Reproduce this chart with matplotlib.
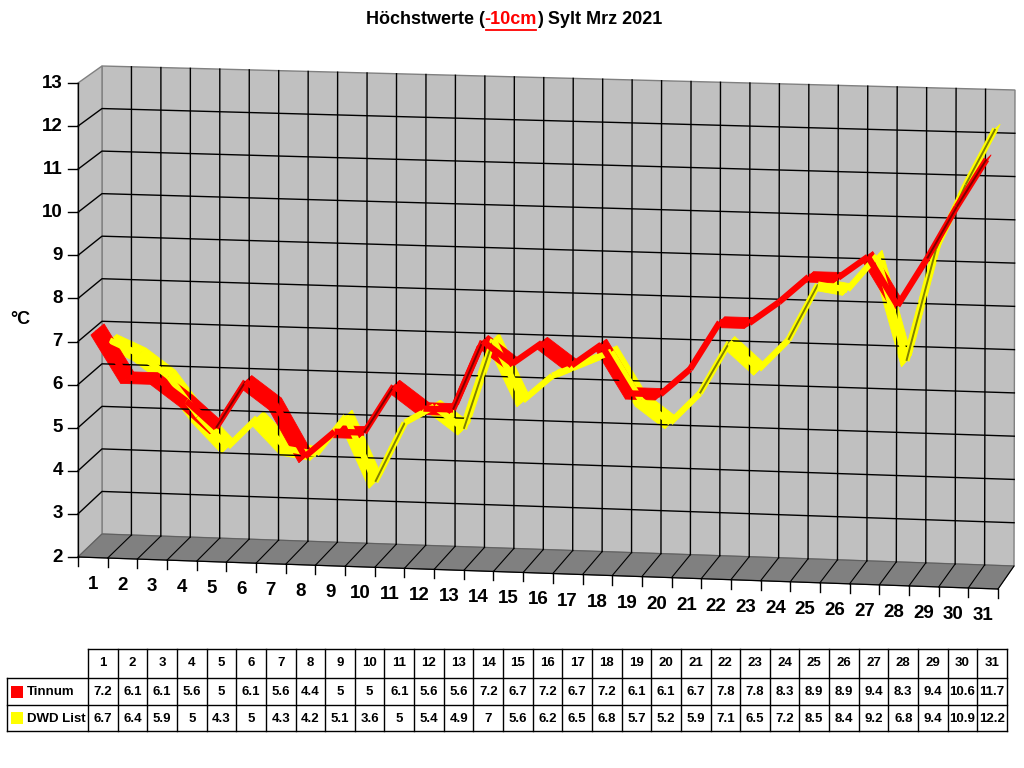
import math
import matplotlib
matplotlib.use("Agg")
import matplotlib.pyplot as plt
from matplotlib.patches import Polygon, Rectangle

# data
days = list(range(1, 32))
tinnum = [7.2, 6.1, 6.1, 5.6, 5, 6.1, 5.6, 4.4, 5, 5, 6.1, 5.6, 5.6, 7.2, 6.7,
          7.2, 6.7, 7.2, 6.1, 6.1, 6.7, 7.8, 7.8, 8.3, 8.9, 8.9, 9.4, 8.3, 9.4, 10.6, 11.7]
dwd_list = [6.7, 6.4, 5.9, 5, 4.3, 5, 4.3, 4.2, 5.1, 3.6, 5, 5.4, 4.9, 7, 5.6,
            6.2, 6.5, 6.8, 5.7, 5.2, 5.9, 7.1, 6.5, 7.2, 8.5, 8.4, 9.2, 6.8, 9.4, 10.9, 12.2]
series_names = ["Tinnum", "DWD List"]
y_ticks = list(range(2, 14))
y_min, y_max = 2, 13

plt.rcParams["font.family"] = ["Liberation Sans", "DejaVu Sans"]

fig = plt.figure(figsize=(10.24, 7.68), dpi=100)
ax = fig.add_axes([0, 0, 1, 1])
ax.set_xlim(0, 1024)
ax.set_ylim(768, 0)
ax.axis("off")

# corners of the 3d box in the picture (category pos, value, depth)
box = {
    (0, 0, 0): (78, 557), (0, 1, 0): (78, 83),
    (0, 0, 1): (102, 534), (0, 1, 1): (102, 66),
    (1, 0, 0): (998, 589), (1, 1, 0): (998, 106),
    (1, 0, 1): (1014, 566), (1, 1, 1): (1015, 90),
}
n = len(days)


def proj(pos, v, d):
    # pos: 0..n along categories, v: value, d: depth 0 (front) .. 1 (back)
    t = pos / n
    u = (v - y_min) / (y_max - y_min)
    x = y = 0.0
    for (a, b, c), (px, py) in box.items():
        w = (t if a else 1 - t) * (u if b else 1 - u) * (d if c else 1 - d)
        x += w * px
        y += w * py
    return x, y


def line3(pts, **kw):
    xy = [proj(*p) for p in pts]
    ax.plot([p[0] for p in xy], [p[1] for p in xy], **kw)


# walls and floor
ax.add_patch(Polygon([proj(0, y_min, 1), proj(n, y_min, 1), proj(n, y_max, 1), proj(0, y_max, 1)],
                     closed=True, fc="#C0C0C0", ec="#808080", lw=1))
ax.add_patch(Polygon([proj(0, y_min, 0), proj(0, y_min, 1), proj(0, y_max, 1), proj(0, y_max, 0)],
                     closed=True, fc="#C0C0C0", ec="#808080", lw=1))
ax.add_patch(Polygon([proj(0, y_min, 0), proj(n, y_min, 0), proj(n, y_min, 1), proj(0, y_min, 1)],
                     closed=True, fc="#808080", ec="#606060", lw=0.8))

# gridlines
for v in y_ticks[1:-1]:
    line3([(0, v, 0), (0, v, 1), (n, v, 1)], color="black", lw=1.0)
for k in range(1, n):
    line3([(k, y_min, 1), (k, y_max, 1)], color="black", lw=1.0)
for k in range(1, n + 1):
    line3([(k, y_min, 0), (k, y_min, 1)], color="black", lw=0.8)
line3([(0, y_min, 0), (0, y_max, 0)], color="black", lw=0.9)
line3([(0, y_min, 0), (n, y_min, 0)], color="black", lw=0.9)

# axis ticks and labels
for v in y_ticks:
    x0, y0 = proj(0, v, 0)
    ax.plot([x0 - 10, x0], [y0, y0], color="black", lw=1.0)
    ax.text(x0 - 15, y0, str(v), ha="right", va="center", fontsize=13.5, fontweight="bold")
for k in range(n + 1):
    x0, y0 = proj(k, y_min, 0)
    ax.plot([x0, x0], [y0, y0 + 9], color="black", lw=1.0)
for i, dlab in enumerate(days):
    x0, y0 = proj(i + 0.5, y_min, 0)
    ax.text(x0, y0 + 27, str(dlab), ha="center", va="center", fontsize=13.5, fontweight="bold")
ax.text(20, 320, "°C", ha="center", va="center", fontsize=13, fontweight="bold")


# ribbons (3d lines)
def ribbon(vals, d0, d1, col, dark):
    dm = (d0 + d1) / 2
    for i in range(len(vals) - 1):
        p0f = proj(i + 0.5, vals[i], d0)
        p1f = proj(i + 1.5, vals[i + 1], d0)
        p1b = proj(i + 1.5, vals[i + 1], d1)
        p0b = proj(i + 0.5, vals[i], d1)
        sx, sy = p1f[0] - p0f[0], p1f[1] - p0f[1]
        dx, dy = p0b[0] - p0f[0], p0b[1] - p0f[1]
        cr = (sx * dy - sy * dx) / (math.hypot(sx, sy) * math.hypot(dx, dy))
        m0 = proj(i + 0.5, vals[i], dm)
        m1 = proj(i + 1.5, vals[i + 1], dm)
        # a bit of body so steep parts keep some width
        ax.plot([m0[0], m1[0]], [m0[1], m1[1]], color=col, lw=4.5, solid_capstyle="butt")
        ax.add_patch(Polygon([p0f, p1f, p1b, p0b], closed=True, fc=col, ec=col, lw=0.6))
        if cr > 0.2:
            # underside of the band shows on steep rises
            ax.plot([m0[0], m1[0]], [m0[1], m1[1]], color=dark, lw=1.4, solid_capstyle="butt")


ribbon(dwd_list, 0.42, 1.0, "#FFFF00", "#808000")
ribbon(tinnum, -0.08, 0.47, "#FF0000", "#800000")

# title with the red part
r = fig.canvas.get_renderer()
parts = [("Höchstwerte (", "black"), ("-10cm", "red"), (") Sylt Mrz 2021", "black")]
texts = [ax.text(0, 20, s, color=c, fontsize=13, fontweight="bold", ha="left", va="center")
         for s, c in parts]
widths = [t.get_window_extent(r).width for t in texts]
xpos = 514 - sum(widths) / 2
for t, w in zip(texts, widths):
    t.set_x(xpos)
    if t.get_color() == "red":
        ax.plot([xpos + 1, xpos + w - 1], [29.5, 29.5], color="red", lw=1.3)
    xpos += w

# data table
col_l, col_w = 88, (1007 - 88) / n
row_y = [649, 678, 705, 731]
lab_l = 7
ax.plot([col_l, col_l + n * col_w], [row_y[0], row_y[0]], color="black", lw=1)
for yy in row_y[1:]:
    ax.plot([lab_l, col_l + n * col_w], [yy, yy], color="black", lw=1)
ax.plot([lab_l, lab_l], [row_y[1], row_y[3]], color="black", lw=1)
for k in range(n + 1):
    xk = col_l + k * col_w
    ax.plot([xk, xk], [row_y[0], row_y[3]], color="black", lw=1)
for k, dlab in enumerate(days):
    xc = col_l + (k + 0.5) * col_w
    ax.text(xc, (row_y[0] + row_y[1]) / 2, str(dlab), ha="center", va="center",
            fontsize=9.5, fontweight="bold")
    for j, vals in enumerate([tinnum, dwd_list]):
        ax.text(xc, (row_y[j + 1] + row_y[j + 2]) / 2 + 0.5, f"{vals[k]:g}", ha="center",
                va="center", fontsize=9.5, fontweight="bold")
for j, (name, col) in enumerate(zip(series_names, ["#FF0000", "#FFFF00"])):
    yc = (row_y[j + 1] + row_y[j + 2]) / 2
    ax.add_patch(Rectangle((11, yc - 6), 12, 12, fc=col, ec="none"))
    ax.text(27, yc + 0.5, name, ha="left", va="center", fontsize=9.5, fontweight="bold")

fig.savefig("out.png", dpi=100)
